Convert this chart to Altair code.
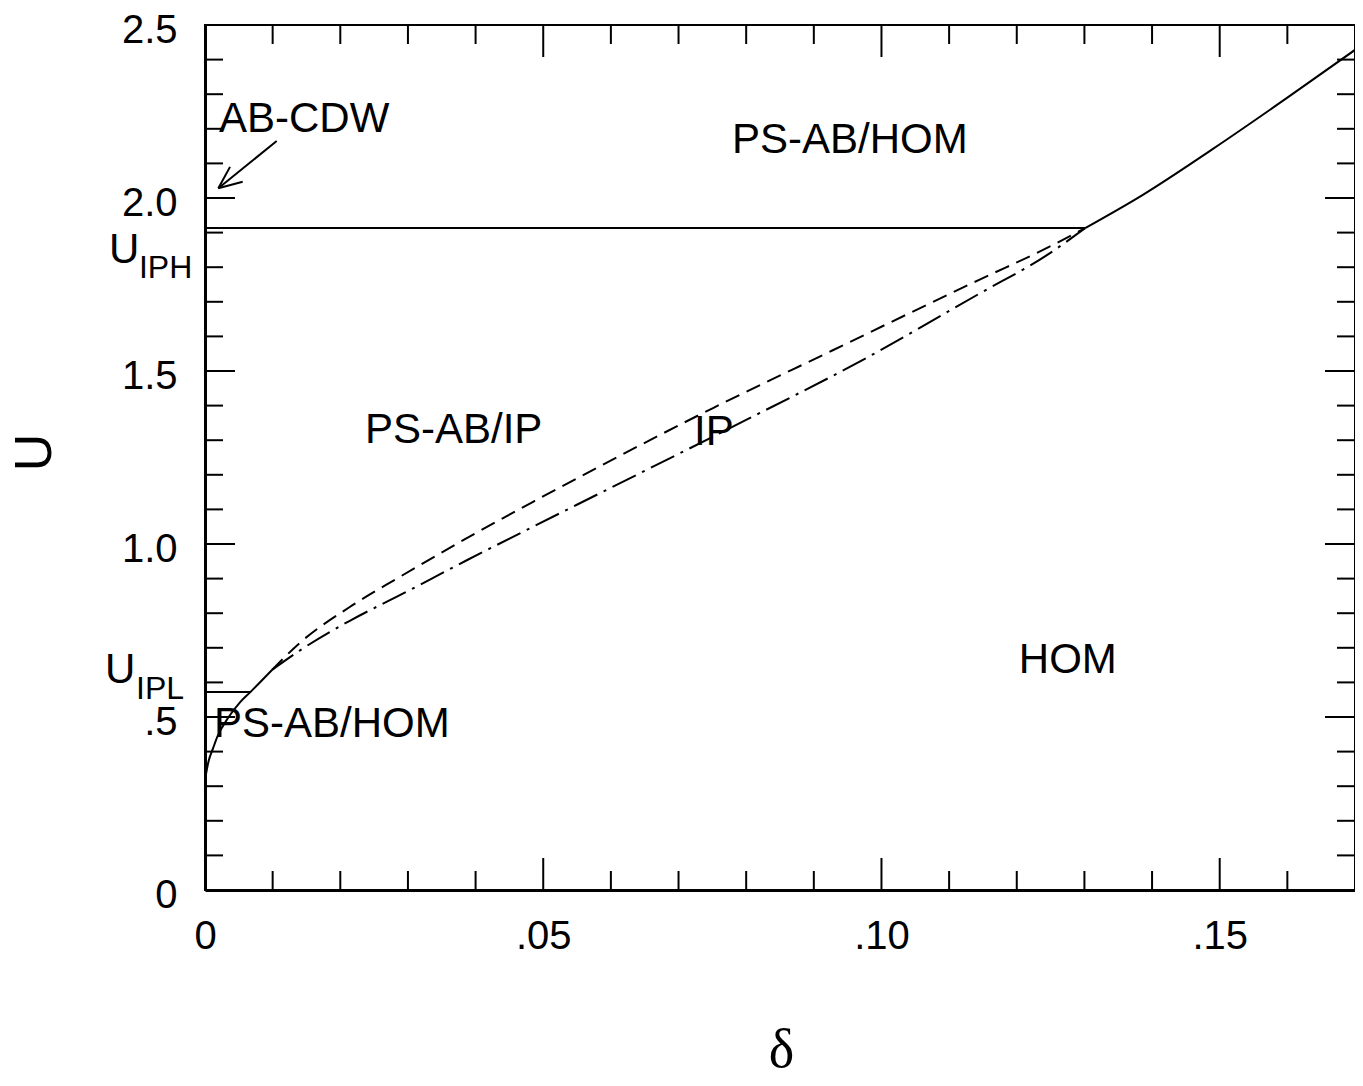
import altair as alt
import pandas as pd

W, H = 1150, 865
X_MAX, Y_MAX = 0.17, 2.5
FONT = "Liberation Sans"

# ---- phase boundaries (delta, U) ----
low_solid_d = [0.0001, 0.0005, 0.0012, 0.0018, 0.0034, 0.0052, 0.0067, 0.0099]
low_solid_u = [0.33, 0.37, 0.41, 0.442, 0.497, 0.543, 0.572, 0.636]

dashed_d = [0.0099, 0.0140, 0.0214, 0.0288, 0.0387, 0.0485, 0.0584, 0.0751, 0.0928, 0.1087, 0.1146, 0.1244, 0.1301]
dashed_u = [0.636, 0.714, 0.818, 0.905, 1.017, 1.122, 1.225, 1.393, 1.560, 1.710, 1.765, 1.855, 1.913]

dashdot_d = [0.0099, 0.0140, 0.0214, 0.0288, 0.0387, 0.0485, 0.0584, 0.0781, 0.0978, 0.1146, 0.1244, 0.1301]
dashdot_u = [0.636, 0.692, 0.778, 0.852, 0.953, 1.050, 1.147, 1.340, 1.538, 1.725, 1.834, 1.913]

up_solid_d = [0.1301, 0.1387, 0.1490, 0.1600, 0.1700]
up_solid_u = [1.913, 2.010, 2.142, 2.290, 2.428]

U_IPH = 1.913
U_IPH_END = 0.1301
U_IPL = 0.572
U_IPL_END = 0.0067

# arrow segments (AB-CDW pointer)
arrow_d = [0.0106, 0.00197, 0.00197]
arrow_u = [2.165, 2.028, 2.028]
arrow_d2 = [0.00197, 0.00370, 0.00557]
arrow_u2 = [2.028, 2.090, 2.047]

# region labels
label_text = ["AB-CDW", "PS-AB/HOM", "PS-AB/IP", "IP", "HOM", "PS-AB/HOM"]
label_d = [0.00207, 0.0779, 0.02365, 0.0723, 0.1203, 0.00133]
label_u = [2.191, 2.130, 1.292, 1.286, 0.627, 0.442]

# U_IPH / U_IPL labels: main letter and subscript
ulab_text = ["U", "U"]
ulab_d = [-0.0142, -0.01478]
ulab_u = [1.812, 0.598]
sub_text = ["IPH", "IPL"]
sub_d = [-0.00976, -0.0102]
sub_u = [1.769, 0.552]

# ticks
x_tick_vals = [0, 0.05, 0.10, 0.15]
x_tick_labels = ["0", ".05", ".10", ".15"]
y_tick_vals = [0, 0.5, 1.0, 1.5, 2.0, 2.5]
y_tick_labels = ["0", ".5", "1.0", "1.5", "2.0", "2.5"]
x_minor = [0.01, 0.02, 0.03, 0.04, 0.06, 0.07, 0.08, 0.09, 0.11, 0.12, 0.13, 0.14, 0.16]
x_major = [0.05, 0.10, 0.15]
y_minor = [0.1, 0.2, 0.3, 0.4, 0.6, 0.7, 0.8, 0.9, 1.1, 1.2, 1.3, 1.4,
           1.6, 1.7, 1.8, 1.9, 2.1, 2.2, 2.3, 2.4]
y_major = [0.5, 1.0, 1.5, 2.0]


def label_expr(vals, labs):
    parts = [f"abs(datum.value - {v}) < 1e-9 ? '{l}'" for v, l in zip(vals, labs)]
    return " : ".join(parts) + " : ''"


xs = alt.Scale(domain=[0, X_MAX], nice=False, zero=False)
ys = alt.Scale(domain=[0, Y_MAX], nice=False, zero=False)

xaxis = alt.Axis(values=x_tick_vals, labelExpr=label_expr(x_tick_vals, x_tick_labels),
                 ticks=False, tickSize=0, grid=False, domain=True, domainWidth=3, domainColor="black",
                 labelFont=FONT, labelFontSize=40, labelColor="black", labelPadding=26,
                 labelBaseline="top", labelFlush=False, labelOverlap=False,
                 title="δ", titleFont="Liberation Serif", titleFontSize=54, titleFontWeight="normal",
                 titleColor="black", titleX=576, titleY=160, titleBaseline="middle", titleAlign="center")
yaxis = alt.Axis(values=y_tick_vals, labelExpr=label_expr(y_tick_vals, y_tick_labels),
                 ticks=False, tickSize=0, grid=False, domain=True, domainWidth=3, domainColor="black",
                 labelFont=FONT, labelFontSize=40, labelColor="black", labelPadding=28,
                 labelBaseline="middle", labelOffset=5, labelFlush=False, labelOverlap=False,
                 title="U", titleFont=FONT, titleFontSize=52, titleFontWeight="normal",
                 titleColor="black", titleX=-171, titleY=427, titleAngle=-90,
                 titleBaseline="middle", titleAlign="center")

X = alt.X("d:Q", scale=xs, axis=xaxis)
Y = alt.Y("u:Q", scale=ys, axis=yaxis)


def line(d, u, **kw):
    return alt.Chart(pd.DataFrame({"d": d, "u": u})).mark_line(
        color="black", strokeWidth=2, interpolate="monotone", **kw).encode(x=X, y=Y, order="d:Q")


layers = [
    line(low_solid_d, low_solid_u),
    line(dashed_d, dashed_u, strokeDash=[15, 8]),
    line(dashdot_d, dashdot_u, strokeDash=[26, 7, 3, 7]),
    line(up_solid_d, up_solid_u),
    line([0, U_IPH_END], [U_IPH, U_IPH]),
    line([0, U_IPL_END], [U_IPL, U_IPL]),
]

# arrow
arrow = alt.Chart(pd.DataFrame({"d": arrow_d, "u": arrow_u, "d2": arrow_d2, "u2": arrow_u2})).mark_rule(
    color="black", strokeWidth=2).encode(x=X, y=Y, x2="d2:Q", y2="u2:Q")
layers.append(arrow)

# ticks (inward)
def xticks(vals, length):
    df = pd.DataFrame({"d": vals})
    b = alt.Chart(df).mark_rule(color="black", strokeWidth=2).encode(
        x=X, y=alt.value(H), y2=alt.value(H - length))
    t = alt.Chart(df).mark_rule(color="black", strokeWidth=2).encode(
        x=X, y=alt.value(0), y2=alt.value(length))
    return [b, t]


def yticks(vals, length):
    df = pd.DataFrame({"u": vals})
    l = alt.Chart(df).mark_rule(color="black", strokeWidth=2).encode(
        y=Y, x=alt.value(0), x2=alt.value(length))
    r = alt.Chart(df).mark_rule(color="black", strokeWidth=2).encode(
        y=Y, x=alt.value(W), x2=alt.value(W - length))
    return [l, r]


layers += xticks(x_minor, 19) + xticks(x_major, 32) + yticks(y_minor, 18) + yticks(y_major, 30)

# labels
labels = alt.Chart(pd.DataFrame({"d": label_d, "u": label_u, "t": label_text})).mark_text(
    font=FONT, fontSize=42, align="left", baseline="alphabetic", color="black").encode(
    x=X, y=Y, text="t:N")
ulabs = alt.Chart(pd.DataFrame({"d": ulab_d, "u": ulab_u, "t": ulab_text})).mark_text(
    font=FONT, fontSize=42, align="left", baseline="alphabetic", color="black").encode(
    x=X, y=Y, text="t:N")
subs = alt.Chart(pd.DataFrame({"d": sub_d, "u": sub_u, "t": sub_text})).mark_text(
    font=FONT, fontSize=32, align="left", baseline="alphabetic", color="black").encode(
    x=X, y=Y, text="t:N")
layers += [labels, ulabs, subs]

chart = alt.layer(*layers).properties(
    width=W, height=H,
    autosize=alt.AutoSizeParams(type="none"),
    padding={"left": 197, "top": 17, "right": 0, "bottom": 195},
).configure_view(stroke="black", strokeWidth=2)

chart.save("out.html", embed_options={"renderer": "svg", "actions": False})
